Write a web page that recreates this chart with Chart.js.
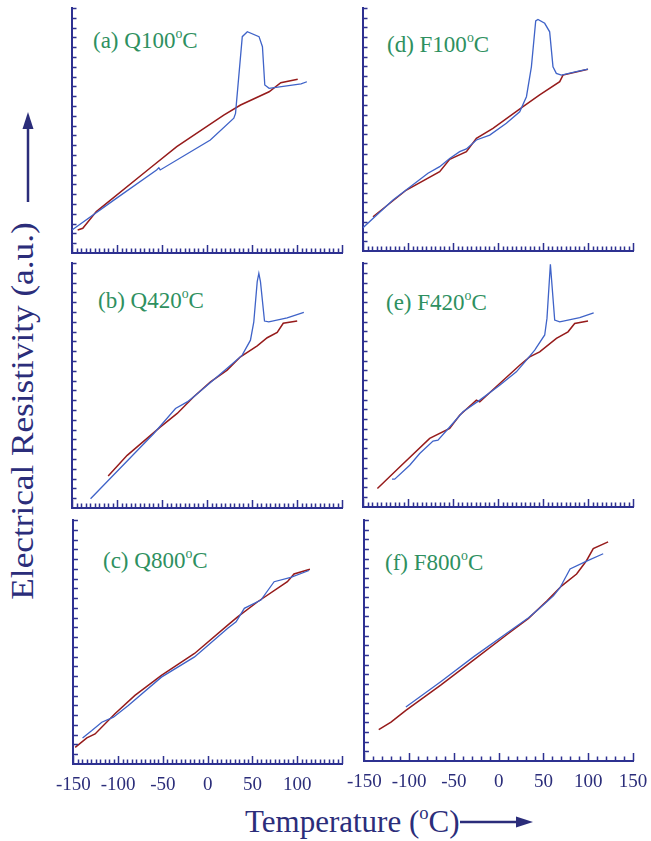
<!DOCTYPE html>
<html>
<head>
<meta charset="utf-8">
<script src="https://cdn.jsdelivr.net/npm/chart.js@4.4.0/dist/chart.umd.min.js"></script>
<style>
body { margin: 0; background: #fff; }
#fig { position: relative; width: 651px; height: 841px; overflow: hidden; font-family: "Liberation Serif", "Times New Roman", serif; }
canvas { position: absolute; }
.tag { position: absolute; color: #2e9060; font-size: 23px; line-height: 1; white-space: nowrap; }
.ttl { position: absolute; color: #2b2d7a; line-height: 1; white-space: nowrap; }
sup { font-size: 0.6em; vertical-align: baseline; position: relative; top: -0.7em; }
svg { position: absolute; left: 0; top: 0; }
</style>
</head>
<body>
<div id="fig">
  <div class="tag" style="left:93px;top:29px">(a) Q100<sup>o</sup>C</div>
  <div class="tag" style="left:98px;top:289px">(b) Q420<sup>o</sup>C</div>
  <div class="tag" style="left:103px;top:549px">(c) Q800<sup>o</sup>C</div>
  <div class="tag" style="left:387px;top:33px">(d) F100<sup>o</sup>C</div>
  <div class="tag" style="left:386px;top:291px">(e) F420<sup>o</sup>C</div>
  <div class="tag" style="left:385px;top:551px">(f) F800<sup>o</sup>C</div>
  <div class="ttl" style="left:245px;top:806px;font-size:31px">Temperature (<sup>o</sup>C)</div>
  <div class="ttl" id="ytitle" style="left:22px;top:411px;font-size:32px;transform:translate(-50%,-50%) rotate(-90deg) scaleX(1.1)">Electrical Resistivity (a.u.)</div>
  <svg width="651" height="841">
    <line x1="460" y1="822" x2="520" y2="822" stroke="#2b2d7a" stroke-width="2.5"/>
    <polygon points="533,822 516,816.5 516,827.5" fill="#2b2d7a"/>
    <line x1="28" y1="202" x2="28" y2="128" stroke="#2b2d7a" stroke-width="2.5"/>
    <polygon points="28,112 22.5,129 33.5,129" fill="#2b2d7a"/>
  </svg>
</div>
<script>
// x axis (temperature, degC) and arbitrary resistivity scale
const tempTicks = [-150, -100, -50, 0, 50, 100, 150];

// (a) Q100C
const aBlueT = [-150, -100, -56, -53.5, -52, 3.7, 29.8, 31.7, 39.2, 44.8, 57.8, 61.6, 64.2, 69, 104.5, 111];
const aBlueR = [9.4, 22.5, 33.9, 34.8, 33.9, 46.1, 55, 57, 88.3, 90.3, 88.3, 84.2, 68.6, 67.2, 69, 69.9];
const aRedT = [-143.7, -138, -123, -63.5, -33.6, 18.6, 37.3, 69, 82, 100.8];
const aRedR = [9.4, 10.1, 16.9, 34.6, 43.4, 56.3, 60.4, 65.8, 69.5, 70.9];

// (b) Q420C
const bBlueT = [-129.4, -59.1, -35, -22, -14.7, 22.4, 39.1, 48.3, 52, 55.8, 57.6, 59.4, 63.9, 68.7, 89.1, 107.6];
const bBlueR = [3.8, 30.4, 40.6, 43.3, 45.4, 57, 62.4, 68.5, 76, 92.4, 95.8, 92.4, 76.3, 76, 77.6, 79.8];
const bRedT = [-109.8, -88.7, -51.7, -33.1, -14.7, 3.9, 22.4, 37.2, 55.8, 66.9, 78, 84.7, 100.2];
const bRedR = [13.1, 21.5, 33.1, 38.6, 45.4, 51.5, 56.3, 61.7, 66.2, 69.5, 71.7, 75.4, 76.3];

// (c) Q800C
const cBlueT = [-139.8, -129.4, -118.3, -105.3, -88.7, -51.7, -14.7, 22.4, 31.7, 40.9, 59.4, 74.2, 92.8, 113.1];
const cBlueR = [10.7, 13.7, 17.1, 19.2, 24, 35.6, 43.9, 55.6, 58.3, 63.8, 67.2, 74.7, 76.5, 79.3];
const cRedT = [-148, -135, -125.8, -103.6, -81.3, -51.7, -14.7, 22.4, 33.4, 55.8, 89, 96.4, 114.2];
const cRedR = [6.8, 10.7, 12.3, 20.6, 28.1, 36.3, 45.3, 56.9, 60.3, 66.5, 74.7, 77.9, 79.8];

// (d) F100C
const dBlueT = [-150, -116.7, -77.8, -64.8, -53.7, -42.6, -35.1, -24, -9.2, 9.3, 24.1, 31.6, 37.1, 41.9, 44.4, 51.9, 57.4, 61.1, 64.8, 70.4, 87, 100];
const dBlueR = [9.6, 21, 32, 34.7, 38.1, 40.9, 42, 45.7, 47.7, 52.6, 57.3, 63.5, 75.8, 94.7, 95.3, 93.7, 90.2, 75.8, 73.1, 72.4, 73.8, 74.8];
const dRedT = [-138.9, -101.8, -64.8, -53.7, -35.1, -24, -5.6, 27.8, 46.3, 68.6, 72.2, 100];
const dRedR = [14.1, 25.1, 32.6, 37.7, 40.9, 46.4, 50.5, 59.4, 64.2, 69.7, 72.4, 74.8];

// (e) F420C
const eBlueT = [-117.8, -114.8, -98.1, -87, -72.2, -66.7, -53.7, -38.9, -20.3, 1.9, 20.4, 31.6, 40.8, 51.9, 54.4, 58.2, 63, 68.6, 90.8, 106.3];
const eBlueR = [11.4, 11.4, 17.1, 21.9, 27, 27.4, 32.8, 39, 43.8, 49.9, 55.4, 60.2, 64.3, 70.5, 77.3, 99.5, 76.6, 75.9, 77.6, 79.6];
const eRedT = [-134, -109.2, -75.9, -53.7, -42.6, -24, -20.3, 1.9, 24.1, 35.2, 46.3, 64.9, 77.8, 85.2, 100];
const eRedR = [7.6, 16.4, 28.1, 32.2, 37.6, 43.8, 43.1, 50.6, 58.1, 61.5, 63.6, 69.1, 71.8, 75.2, 76.2];

// (f) F800C
const fBlueT = [-103.7, -64.8, -27.8, 9.3, 33.3, 46.3, 61.1, 68.6, 79.7, 98.2, 116.7];
const fBlueR = [22.4, 32.9, 43.3, 53.1, 59.4, 63.6, 68.5, 72, 79.7, 82.9, 86];
const fRedT = [-134, -120.3, -103.7, -64.8, -27.8, 9.3, 33.3, 53.7, 70.4, 87, 98.2, 105.6, 122.2];
const fRedR = [13, 16.1, 21, 31.5, 42, 52.5, 59.2, 66.4, 72.7, 77.6, 83.2, 88.1, 90.9];

const axisColor = '#2e3191';
const blue = '#3f63c8';
const red = '#961b1b';

// ticks point into the plot, so draw them ourselves from the scales
const innerTicks = {
  id: 'innerTicks',
  afterDraw(chart, args, opts) {
    const {ctx, chartArea: a, scales: {x, y}} = chart;
    ctx.save();
    ctx.strokeStyle = axisColor;
    ctx.lineWidth = 1.5;
    ctx.beginPath();
    for (let t = x.min; t <= x.max; t += opts.minor) {
      const px = Math.round(x.getPixelForValue(t)) + 0.5;
      const len = t % 50 === 0 ? 8 : 4.5;
      ctx.moveTo(px, a.bottom);
      ctx.lineTo(px, a.bottom - len);
    }
    for (let v = y.min + 4; v <= y.max; v += 4) {
      const py = Math.round(y.getPixelForValue(v)) + 0.5;
      ctx.moveTo(a.left, py);
      ctx.lineTo(a.left + 4.5, py);
    }
    ctx.stroke();
    ctx.restore();
  }
};

function pts(T, R) {
  return T.map((t, i) => ({x: t, y: R[i]}));
}

function panel(box, blueT, blueR, redT, redR, labels, minor, hideLast) {
  const pad = 26;
  const c = document.createElement('canvas');
  const w = box.r - box.l + 2 * pad;
  const h = box.b - box.t + 12 + (labels ? 30 : 0);
  c.width = w; c.height = h;
  c.style.left = (box.l - pad) + 'px';
  c.style.top = (box.t - 6) + 'px';
  c.style.width = w + 'px';
  c.style.height = h + 'px';
  document.getElementById('fig').appendChild(c);
  new Chart(c, {
    type: 'line',
    data: {
      datasets: [
        {data: pts(blueT, blueR), borderColor: blue, borderWidth: 1.3, pointRadius: 0, tension: 0},
        {data: pts(redT, redR), borderColor: red, borderWidth: 1.5, pointRadius: 0, tension: 0}
      ]
    },
    options: {
      responsive: false,
      animation: false,
      layout: {padding: {left: pad, right: pad, top: 6, bottom: 6}},
      plugins: {legend: {display: false}, tooltip: {enabled: false}, innerTicks: {minor: minor}},
      scales: {
        x: {
          type: 'linear', min: -150, max: 150,
          afterFit: s => { s.height = labels ? 30 : 0; },
          afterBuildTicks: s => { s.ticks = tempTicks.map(v => ({value: v})); },
          grid: {display: true, drawOnChartArea: false, drawTicks: false},
          border: {color: axisColor, width: 2},
          ticks: {
            display: labels, autoSkip: false, maxRotation: 0, padding: 10,
            color: '#2b2d7a', font: {family: 'Liberation Serif', size: 19},
            callback: v => (hideLast && v === 150) ? '' : v
          }
        },
        y: {
          type: 'linear', min: 0, max: 100,
          afterFit: s => { s.width = 0; },
          grid: {display: true, drawOnChartArea: false, drawTicks: false},
          border: {color: axisColor, width: 2},
          ticks: {display: false}
        }
      }
    },
    plugins: [innerTicks]
  });
}

panel({l: 72, r: 342, t: 8, b: 253}, aBlueT, aBlueR, aRedT, aRedR, false, 5, false);
panel({l: 72, r: 342, t: 263, b: 508}, bBlueT, bBlueR, bRedT, bRedR, false, 5, false);
panel({l: 72, r: 342, t: 520, b: 764}, cBlueT, cBlueR, cRedT, cRedR, true, 5, true);
panel({l: 363, r: 633, t: 8, b: 251}, dBlueT, dBlueR, dRedT, dRedR, false, 5, false);
panel({l: 363, r: 633, t: 263, b: 507}, eBlueT, eBlueR, eRedT, eRedR, false, 5, false);
panel({l: 363, r: 633, t: 520, b: 761}, fBlueT, fBlueR, fRedT, fRedR, true, 10, false);
</script>
</body>
</html>
